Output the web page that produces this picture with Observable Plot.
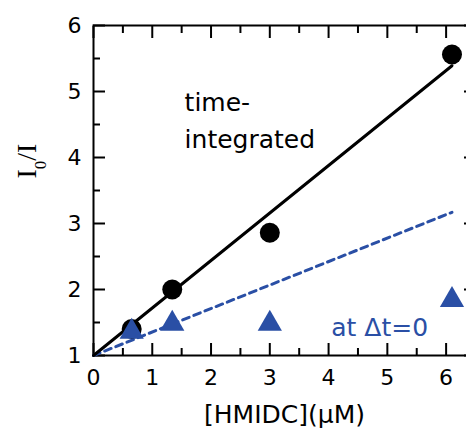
<!DOCTYPE html>
<html>
<head>
<meta charset="utf-8">
<script src="https://cdn.jsdelivr.net/npm/d3@7"></script>
<script src="https://cdn.jsdelivr.net/npm/@observablehq/plot@0.6"></script>
<style>
  html, body { margin: 0; padding: 0; background: #fff; overflow: hidden; }
  #chart svg { display: block; }
</style>
</head>
<body>
<div id="chart"></div>
<script>
// ---- data ----
const concentration = [0.65, 1.34, 3.0, 6.1];      // [HMIDC] (µM)
const timeIntegrated = [1.4, 2.0, 2.86, 5.56];     // I0/I, circles
const atDeltaT0 = [1.36, 1.48, 1.48, 1.84];        // I0/I, triangles
const fitX = [0, 6.1];
const fitIntegrated = [1, 5.39];
const fitDeltaT0 = [1, 3.17];
const xTicks = [0, 1, 2, 3, 4, 5, 6];
const xMinorTicks = [0.5, 1.5, 2.5, 3.5, 4.5, 5.5];
const yTicks = [1, 2, 3, 4, 5, 6];
const yMinorTicks = [1.5, 2.5, 3.5, 4.5, 5.5];
const xLabel = "[HMIDC](\u03BCM)";
const yLabel = "I0/I";
const labelIntegrated = "time-\nintegrated";
const labelDelta = "at \u0394t=0";

const blue = "#2a4fa5";
const points = concentration.map((c, i) => ({c, integrated: timeIntegrated[i], delta: atDeltaT0[i]}));
const fits = fitX.map((c, i) => ({c, integrated: fitIntegrated[i], delta: fitDeltaT0[i]}));

const W = 466, H = 430, mL = 93, mR = -9, mT = 25, mB = 75;
const major = 12, minor = 7;  // tick lengths (px), drawn inward
const none = () => "";
const num = d => String(d);

const chart = Plot.plot({
  width: W, height: H,
  marginLeft: mL, marginRight: mR, marginTop: mT, marginBottom: mB,
  x: {domain: [0, 6.5]},
  y: {domain: [1, 6]},
  style: {fontFamily: "'DejaVu Sans', sans-serif", background: "white", color: "black"},
  marks: [
    Plot.frame({stroke: "black", strokeWidth: 2}),
    // axes: ticks shifted inward by their own length
    Plot.axisX(xTicks, {anchor: "bottom", tickSize: major, dy: -major, tickPadding: 14, strokeWidth: 2,
      fontSize: 22, tickFormat: num, label: null}),
    Plot.axisX(xMinorTicks, {anchor: "bottom", tickSize: minor, dy: -minor, strokeWidth: 2, tickFormat: none, label: null}),
    Plot.axisX(xTicks, {anchor: "top", tickSize: major, dy: major, strokeWidth: 2, tickFormat: none, label: null}),
    Plot.axisX(xMinorTicks, {anchor: "top", tickSize: minor, dy: minor, strokeWidth: 2, tickFormat: none, label: null}),
    Plot.axisY(yTicks, {anchor: "left", tickSize: major, dx: major, tickPadding: 12, strokeWidth: 2,
      fontSize: 22, tickFormat: num, label: null}),
    Plot.axisY(yMinorTicks, {anchor: "left", tickSize: minor, dx: minor, strokeWidth: 2, tickFormat: none, label: null}),
    Plot.axisY(yTicks, {anchor: "right", tickSize: major, dx: -major, strokeWidth: 2, tickFormat: none, label: null}),
    Plot.axisY(yMinorTicks, {anchor: "right", tickSize: minor, dx: -minor, strokeWidth: 2, tickFormat: none, label: null}),
    // fit lines
    Plot.line(fits, {x: "c", y: "delta", stroke: blue, strokeWidth: 3, strokeDasharray: "7,5"}),
    Plot.line(fits, {x: "c", y: "integrated", stroke: "black", strokeWidth: 3}),
    // data
    Plot.dot(points, {x: "c", y: "integrated", r: 10, fill: "black"}),
    Plot.dot(points, {x: "c", y: "delta", r: 9, symbol: "triangle", fill: blue}),
    // annotations
    Plot.text([labelIntegrated], {x: 1.55, y: 5.09, text: d => d, textAnchor: "start", lineAnchor: "top",
      lineHeight: 1.45, fontSize: 25, fill: "black"}),
    Plot.text([labelDelta], {x: 4.87, y: 1.42, text: d => d, textAnchor: "middle", lineAnchor: "middle",
      fontSize: 25, fill: blue}),
    // axis titles
    Plot.text([xLabel], {frameAnchor: "bottom", dy: 59, text: d => d, lineAnchor: "middle", fontSize: 25, fill: "black"}),
    Plot.text([yLabel], {frameAnchor: "left", dx: -66, dy: -12, rotate: -90, text: d => d, lineAnchor: "middle",
      fontSize: 28, fontFamily: "'Liberation Serif', 'Times New Roman', serif", fill: "black"})
  ]
});

// subscript 0 in the y title
const NS = "http://www.w3.org/2000/svg";
chart.querySelectorAll("text").forEach(t => {
  if (t.textContent === yLabel) {
    t.textContent = "";
    const a = document.createElementNS(NS, "tspan"); a.textContent = "I";
    const b = document.createElementNS(NS, "tspan"); b.textContent = "0";
    b.setAttribute("font-size", "17"); b.setAttribute("dy", "10");
    const c = document.createElementNS(NS, "tspan"); c.textContent = "/I";
    c.setAttribute("dy", "-10");
    t.append(a, b, c);
  }
});

document.getElementById("chart").append(chart);
</script>
</body>
</html>
